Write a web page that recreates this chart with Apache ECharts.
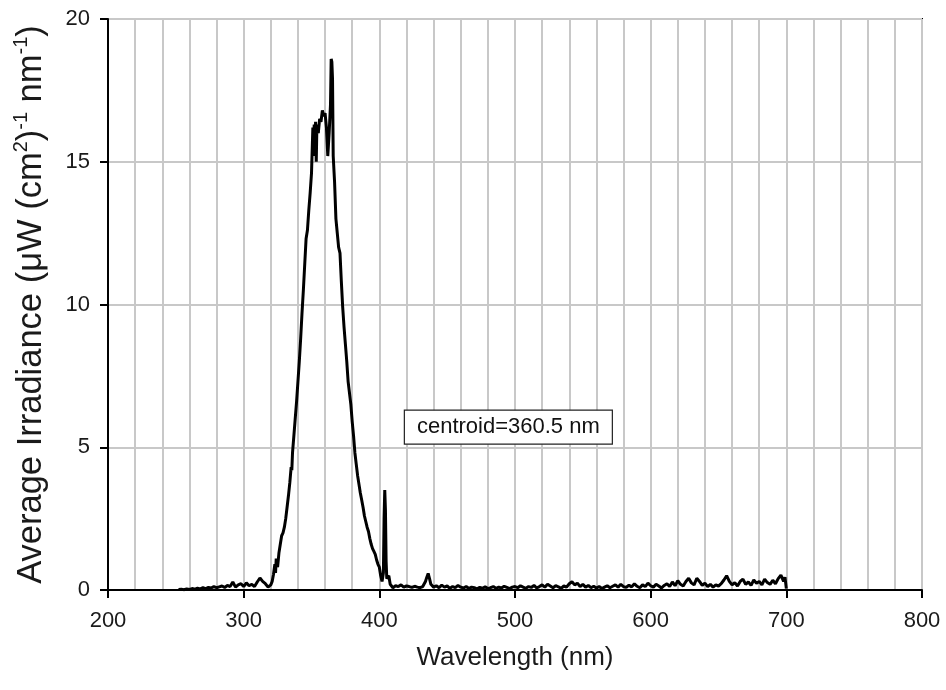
<!DOCTYPE html>
<html>
<head>
<meta charset="utf-8">
<script src="https://cdn.jsdelivr.net/npm/echarts@6/dist/echarts.min.js"></script>
<style>html,body{margin:0;padding:0;background:#fff;}#c{width:946px;height:690px;}</style>
</head>
<body>
<div id="c"></div>
<script>
// Wavelength (nm) / irradiance pairs
const leftTail = [
  [252,0.02],[254,0.03],[256,0.01],[258,0.04],[260,0.02],[262,0.05],[264,0.03],[266,0.06],[268,0.04],
  [270,0.08],[272,0.05],[274,0.09],[276,0.07],[278,0.12],[280,0.08],[282,0.11],[284,0.14],[286,0.09],
  [288,0.16],[290,0.12],[292,0.28],[294,0.1],[296,0.18],[298,0.22],[300,0.12],[302,0.25],[304,0.15],
  [306,0.2],[308,0.12],[310,0.28],[312,0.42],[313,0.47],[314,0.3],[316,0.22],[318,0.1],[319,0.15]
];
const mainPeak = [
  [320,0.18],[321,0.3],[322,0.55],[323,0.9],[323.5,0.6],[324,1.1],[325,0.8],[325.5,1.05],[326,1.3],
  [327,1.6],[328,1.9],[329,2.0],[330,2.2],[331,2.5],[332,2.9],[333,3.3],[334,3.75],[335,4.3],[335.5,4.2],
  [336,4.8],[337,5.4],[338,6.0],[339,6.6],[340,7.3],[341,8.0],[342,8.8],[343,9.7],[344,10.5],[345,11.4],
  [346,12.3],[347,12.6],[348,13.3],[349,13.9],[350,14.6],[351,16.2],[351.5,15.5],[352,16.3],[352.5,15.2],
  [353,16.4],[353.5,15.0],[354,16.3],[355,16.0],[356,16.5],[357,16.4],[358,16.8],[359,16.6],[360,16.7],
  [361,16.2],[362,15.2],[362.5,15.6],[363,16.0],[364,17.0],[364.5,18.6],[365,18.5],[365.5,17.9],[366,15.2],
  [367,14.3],[368,13.0],[369,12.5],[370,12.0],[371,11.8],[372,10.8],[373,9.9],[374,9.2],[375,8.6],[376,8.0],
  [377,7.3],[378,6.9],[379,6.5],[380,5.9],[381,5.4],[382,4.8],[383,4.4],[384,4.0],[385,3.7],[386,3.4],
  [387,3.15],[388,2.9],[389,2.6],[390,2.4],[391,2.2],[392,2.05],[393,1.8],[394,1.6],[395,1.45],[396,1.35],
  [397,1.25],[398,1.05],[399,0.9],[400,0.8],[401,0.5],[402,0.3],[402.5,0.25],[403,0.6],[403.5,2.5],
  [404,3.5],[404.5,2.8],[405,1.0],[405.5,0.4],[406,0.35],[407,0.5],[408,0.2],[409,0.15],[410,0.08]
];
const rightTail = [
  [412,0.15],[414,0.12],[416,0.18],[418,0.1],[420,0.14],[422,0.12],[424,0.09],[426,0.13],[428,0.1],[430,0.08],
  [432,0.12],[434,0.3],[435,0.45],[436,0.58],[437,0.4],[438,0.2],[440,0.1],[442,0.15],[444,0.08],[446,0.17],
  [448,0.1],[450,0.14],[452,0.06],[454,0.12],[456,0.08],[458,0.16],[460,0.1],[462,0.07],[464,0.12],[466,0.05],
  [468,0.1],[470,0.08],[472,0.04],[474,0.09],[476,0.06],[478,0.11],[480,0.05],[482,0.08],[484,0.12],[486,0.06],
  [488,0.1],[490,0.07],[492,0.13],[494,0.09],[496,0.05],[498,0.1],[500,0.12],[502,0.08],[504,0.15],[506,0.1],
  [508,0.06],[510,0.12],[512,0.09],[514,0.16],[516,0.07],[518,0.12],[520,0.18],[522,0.1],[524,0.2],[526,0.14],
  [528,0.08],[530,0.15],[532,0.11],[534,0.06],[536,0.14],[538,0.1],[540,0.22],[542,0.29],[544,0.18],[546,0.24],
  [548,0.12],[550,0.2],[552,0.1],[554,0.16],[556,0.08],[558,0.13],[560,0.07],[562,0.12],[564,0.05],[566,0.1],
  [568,0.15],[570,0.08],[572,0.13],[574,0.18],[576,0.1],[578,0.2],[580,0.12],[582,0.09],[584,0.17],[586,0.11],
  [588,0.22],[590,0.13],[592,0.08],[594,0.18],[596,0.12],[598,0.24],[600,0.15],[602,0.1],[604,0.2],[606,0.14],
  [608,0.07],[610,0.16],[612,0.22],[614,0.12],[616,0.28],[618,0.15],[620,0.33],[622,0.2],[624,0.14],[626,0.3],
  [628,0.41],[630,0.25],[632,0.18],[634,0.41],[636,0.3],[638,0.16],[640,0.24],[642,0.12],[644,0.2],[646,0.1],
  [648,0.18],[650,0.14],[652,0.22],[654,0.35],[656,0.5],[658,0.3],[660,0.18],[662,0.26],[664,0.14],[666,0.3],
  [668,0.38],[670,0.2],[672,0.28],[674,0.16],[676,0.35],[678,0.24],[680,0.3],[682,0.18],[684,0.38],[686,0.26],
  [688,0.2],[690,0.34],[692,0.22],[694,0.4],[696,0.52],[698,0.3],[699,0.45],[700,0.05]
];
const xTicks = {min:200, max:800, interval:100};
const yTicks = {min:0, max:20, interval:5};
const annotation = {text:'centroid=360.5 nm', at:[418, 6.32]};

const FONT = '"Liberation Sans", Arial, sans-serif';
const chart = echarts.init(document.getElementById('c'), null, {renderer:'canvas'});
const grid = '#c8c8c8';
chart.setOption({
  animation:false,
  backgroundColor:'#fff',
  grid:{left:108, top:19, right:24, bottom:100, containLabel:false, outerBoundsMode:'none',
        show:true, borderColor:'#000', borderWidth:2, backgroundColor:'transparent'},
  xAxis:{
    type:'value', min:xTicks.min, max:xTicks.max, interval:xTicks.interval,
    name:'Wavelength (nm)', nameLocation:'middle', nameGap:55,
    nameTextStyle:{fontFamily:FONT, fontSize:26, color:'#1a1a1a'},
    axisLine:{show:true, onZero:false, lineStyle:{color:'#000', width:2}},
    axisTick:{show:true, inside:false, length:8, lineStyle:{color:'#000', width:2}},
    axisLabel:{fontFamily:FONT, fontSize:22, color:'#1a1a1a', margin:20},
    splitLine:{show:true, lineStyle:{color:grid, width:2}},
    minorTick:{show:false, splitNumber:5},
    minorSplitLine:{show:true, lineStyle:{color:grid, width:2}}
  },
  yAxis:{
    type:'value', min:yTicks.min, max:yTicks.max, interval:yTicks.interval,
    name:'{a|Average Irradiance (μW (cm}{s|2}{a|)}{s|-1}{a| nm}{s|-1}{a|)}',
    nameLocation:'middle', nameGap:57, nameRotate:90,
    nameTextStyle:{fontFamily:FONT, color:'#1a1a1a', rich:{
      a:{fontFamily:FONT, fontSize:34.5, color:'#1a1a1a', lineHeight:40},
      s:{fontFamily:FONT, fontSize:20, color:'#1a1a1a', lineHeight:40, verticalAlign:'top'}
    }},
    axisLine:{show:true, onZero:false, lineStyle:{color:'#000', width:2}},
    axisTick:{show:true, inside:false, length:8, lineStyle:{color:'#000', width:2}},
    axisLabel:{fontFamily:FONT, fontSize:22, color:'#1a1a1a', margin:18},
    splitLine:{show:true, lineStyle:{color:grid, width:2}}
  },
  series:[{
    type:'line', data:leftTail.concat(mainPeak, rightTail), showSymbol:false, symbol:'none',
    lineStyle:{color:'#000', width:3}, z:5
  }]
});
const p = chart.convertToPixel({gridIndex:0}, annotation.at);
chart.setOption({
  graphic:[{
    type:'group', left:p[0], top:p[1], z:10,
    children:[
      {type:'rect', shape:{x:0, y:0, width:208, height:34}, style:{fill:'#fff', stroke:'#222', lineWidth:1.2}},
      {type:'text', x:104, y:17, style:{text:annotation.text, fontFamily:FONT, fontSize:22, fill:'#111', align:'center', verticalAlign:'middle'}}
    ]
  }]
});
</script>
</body>
</html>
